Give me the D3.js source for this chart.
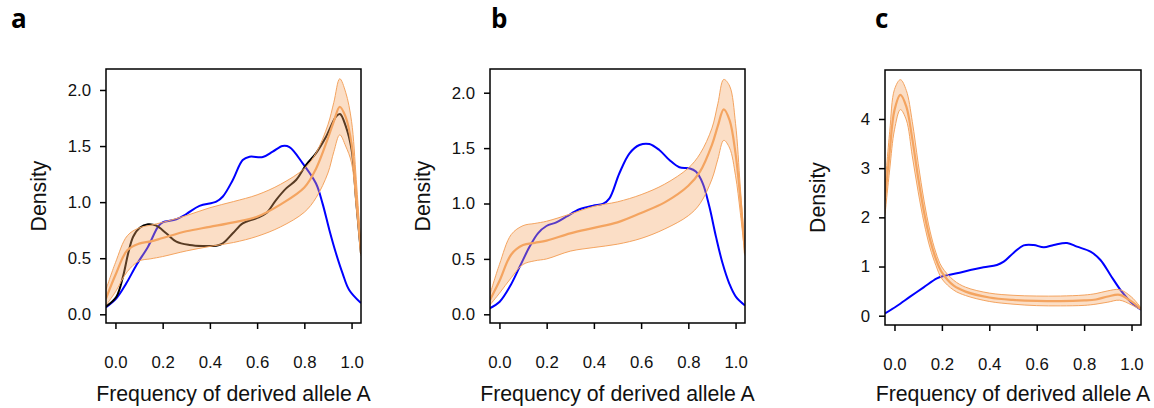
<!DOCTYPE html>
<html>
<head>
<meta charset="utf-8">
<script src="https://cdn.jsdelivr.net/npm/d3@7"></script>
<style>
  body { margin: 0; background: #fff; }
  svg { display: block; }
  .tick-label { font-family: "Liberation Sans", Arial, sans-serif; font-size: 16.8px; fill: #111; }
  .axis-title { font-family: "Liberation Sans", Arial, sans-serif; font-size: 21.3px; fill: #111; }
  .panel-letter { font-family: "Open Sans", sans-serif; font-weight: bold; font-size: 26px; fill: #000; }
</style>
</head>
<body>
<svg id="chart" width="1154" height="408"></svg>
<script>
// ---- data ----
var gridAB = [-0.04, 0, 0.05, 0.1, 0.15, 0.2, 0.3, 0.4, 0.5, 0.6, 0.7, 0.8, 0.85, 0.9, 0.925, 0.95, 0.975, 1.0, 1.02, 1.04];

var aMean  = [0.14, 0.35, 0.57, 0.63, 0.65, 0.68, 0.74, 0.78, 0.82, 0.87, 0.98, 1.13, 1.30, 1.57, 1.72, 1.85, 1.76, 1.52, 1.05, 0.55];
var aUpper = [0.22, 0.46, 0.70, 0.77, 0.795, 0.82, 0.88, 0.95, 1.005, 1.065, 1.16, 1.30, 1.44, 1.69, 1.89, 2.10, 1.98, 1.72, 1.20, 0.58];
var aLower = [0.08, 0.20, 0.38, 0.475, 0.495, 0.515, 0.565, 0.605, 0.64, 0.695, 0.78, 0.91, 1.04, 1.26, 1.45, 1.60, 1.50, 1.35, 0.95, 0.52];

var bMean  = [0.13, 0.30, 0.54, 0.625, 0.645, 0.665, 0.73, 0.78, 0.83, 0.915, 1.01, 1.16, 1.29, 1.53, 1.70, 1.85, 1.75, 1.45, 1.05, 0.55];
var bUpper = [0.18, 0.45, 0.72, 0.80, 0.82, 0.84, 0.905, 0.975, 1.015, 1.08, 1.175, 1.32, 1.45, 1.68, 1.90, 2.12, 2.06, 1.72, 1.15, 0.57];
var bLower = [0.085, 0.19, 0.33, 0.45, 0.483, 0.50, 0.57, 0.603, 0.633, 0.685, 0.77, 0.89, 1.00, 1.22, 1.40, 1.57, 1.50, 1.25, 0.92, 0.53];

var gridC  = [-0.04, -0.02, 0, 0.025, 0.05, 0.075, 0.1, 0.125, 0.15, 0.175, 0.2, 0.25, 0.3, 0.4, 0.5, 0.6, 0.7, 0.8, 0.85, 0.9, 0.95, 1.0, 1.04];
var cMean  = [2.35, 3.35, 4.18, 4.49, 4.25, 3.60, 2.80, 2.10, 1.55, 1.15, 0.88, 0.61, 0.49, 0.37, 0.32, 0.30, 0.295, 0.31, 0.33, 0.39, 0.425, 0.29, 0.14];
var cUpper = [2.62, 3.75, 4.60, 4.80, 4.58, 3.95, 3.10, 2.33, 1.72, 1.28, 0.99, 0.72, 0.58, 0.46, 0.415, 0.40, 0.40, 0.42, 0.45, 0.505, 0.53, 0.38, 0.16];
var cLower = [2.05, 2.98, 3.78, 4.19, 3.98, 3.25, 2.52, 1.88, 1.38, 1.02, 0.75, 0.52, 0.41, 0.29, 0.235, 0.205, 0.20, 0.21, 0.235, 0.275, 0.315, 0.22, 0.12];

// observed densities, [frequency, density]
var aBlue = [[-0.041,0.062],[0.004,0.143],[0.046,0.276],[0.089,0.44],[0.138,0.603],[0.18,0.78],[0.20,0.82],[0.258,0.847],
  [0.30,0.894],[0.356,0.966],[0.427,1.004],[0.455,1.05],[0.497,1.197],[0.539,1.375],[0.568,1.405],[0.624,1.402],
  [0.666,1.45],[0.708,1.50],[0.737,1.49],[0.793,1.346],[0.849,1.168],[0.877,0.989],[0.906,0.752],[0.934,0.544],
  [0.962,0.365],[0.99,0.217],[1.04,0.10]];
var aBlack = [[-0.041,0.068],[0.004,0.157],[0.032,0.336],[0.054,0.544],[0.075,0.692],[0.103,0.772],[0.138,0.802],
  [0.173,0.79],[0.215,0.722],[0.258,0.648],[0.314,0.618],[0.37,0.609],[0.427,0.612],[0.455,0.633],[0.497,0.722],
  [0.539,0.811],[0.596,0.856],[0.638,0.90],[0.68,1.019],[0.723,1.123],[0.765,1.197],[0.807,1.331],[0.849,1.435],
  [0.892,1.583],[0.934,1.762],[0.951,1.786],[0.975,1.68],[1.0,1.47],[1.02,1.0],[1.04,0.54]];
var bBlue = [[-0.041,0.054],[0.001,0.114],[0.044,0.25],[0.086,0.43],[0.128,0.611],[0.163,0.731],[0.199,0.797],
  [0.241,0.83],[0.283,0.881],[0.339,0.948],[0.396,0.981],[0.438,0.996],[0.466,1.047],[0.508,1.273],[0.551,1.453],
  [0.593,1.528],[0.635,1.537],[0.677,1.483],[0.72,1.393],[0.762,1.327],[0.804,1.318],[0.832,1.288],[0.861,1.182],
  [0.889,0.972],[0.917,0.701],[0.945,0.46],[0.973,0.28],[1.001,0.16],[1.04,0.08]];
var cBlue = [[-0.04,0.047],[0.01,0.197],[0.066,0.387],[0.123,0.577],[0.179,0.76],[0.207,0.807],[0.263,0.862],
  [0.32,0.929],[0.376,0.984],[0.432,1.031],[0.461,1.099],[0.503,1.282],[0.545,1.431],[0.587,1.438],[0.63,1.391],
  [0.672,1.438],[0.728,1.479],[0.77,1.404],[0.827,1.303],[0.869,1.133],[0.911,0.828],[0.954,0.522],[0.996,0.285],
  [1.04,0.12]];

var xTicks = [0, 0.2, 0.4, 0.6, 0.8, 1.0];
var yTicksAB = [0, 0.5, 1.0, 1.5, 2.0];
var yTicksC = [0, 1, 2, 3, 4];

var panels = [
  {letter: "a", lx: 11, box: [106, 69, 361, 323], y: [-0.0776, 2.187], yt: yTicksAB, fmt: d3.format(".1f"),
   grid: gridAB, mean: aMean, upper: aUpper, lower: aLower, blue: aBlue, black: aBlack},
  {letter: "b", lx: 491, box: [490, 69, 745, 323], y: [-0.0785, 2.214], yt: yTicksAB, fmt: d3.format(".1f"),
   grid: gridAB, mean: bMean, upper: bUpper, lower: bLower, blue: bBlue},
  {letter: "c", lx: 875, box: [885, 70, 1141, 325], y: [-0.189, 4.996], yt: yTicksC, fmt: d3.format("d"),
   grid: gridC, mean: cMean, upper: cUpper, lower: cLower, blue: cBlue}
];

var svg = d3.select("#chart");
var orange = "#f4a460";

panels.forEach(function (p, i) {
  var x0 = p.box[0], y0 = p.box[1], x1 = p.box[2], y1 = p.box[3];
  var x = d3.scaleLinear().domain([-0.04, 1.04]).range([x0, x1]);
  var y = d3.scaleLinear().domain(p.y).range([y1, y0]);
  var g = svg.append("g");

  svg.append("clipPath").attr("id", "clip" + i)
    .append("rect").attr("x", x0).attr("y", y0).attr("width", x1 - x0).attr("height", y1 - y0);

  var plot = g.append("g").attr("clip-path", "url(#clip" + i + ")");
  var curve = d3.curveCatmullRom.alpha(0.5);
  var line = d3.line().x(function (d) { return x(d[0]); }).y(function (d) { return y(d[1]); }).curve(curve);

  // observed curves under the translucent band
  plot.append("path").attr("d", line(p.blue))
    .attr("fill", "none").attr("stroke", "#0000ff").attr("stroke-width", 2);
  if (p.black) {
    plot.append("path").attr("d", line(p.black))
      .attr("fill", "none").attr("stroke", "#000").attr("stroke-width", 2);
  }

  var rows = p.grid.map(function (gx, k) { return {x: gx, m: p.mean[k], u: p.upper[k], l: p.lower[k]}; });
  var area = d3.area().x(function (d) { return x(d.x); })
    .y0(function (d) { return y(d.l); }).y1(function (d) { return y(d.u); }).curve(curve);
  plot.append("path").attr("d", area(rows)).attr("fill", orange).attr("fill-opacity", 0.36);

  function bandLine(key, w) {
    plot.append("path")
      .attr("d", d3.line().x(function (d) { return x(d.x); }).y(function (d) { return y(d[key]); }).curve(curve)(rows))
      .attr("fill", "none").attr("stroke", orange).attr("stroke-width", w);
  }
  bandLine("u", 1);
  bandLine("l", 1);
  bandLine("m", 2.2);

  // box
  g.append("rect").attr("x", x0).attr("y", y0).attr("width", x1 - x0).attr("height", y1 - y0)
    .attr("fill", "none").attr("stroke", "#000").attr("stroke-width", 1.5);

  // y axis
  var ya = g.append("g").attr("transform", "translate(" + x0 + ",0)")
    .call(d3.axisLeft(y).tickValues(p.yt).tickFormat(p.fmt).tickSize(6).tickPadding(9));
  ya.select(".domain").remove();
  ya.selectAll("line").attr("stroke", "#000").attr("stroke-width", 1.5);
  ya.selectAll("text").attr("class", "tick-label").attr("fill", null);
  ya.attr("font-family", null).attr("font-size", null);

  // x axis
  var xa = g.append("g").attr("transform", "translate(0," + y1 + ")")
    .call(d3.axisBottom(x).tickValues(xTicks).tickFormat(d3.format(".1f")).tickSize(6).tickPadding(27));
  xa.select(".domain").remove();
  xa.selectAll("line").attr("stroke", "#000").attr("stroke-width", 1.5);
  xa.selectAll("text").attr("class", "tick-label").attr("fill", null);
  xa.attr("font-family", null).attr("font-size", null);

  // titles
  g.append("text").attr("class", "axis-title").attr("text-anchor", "middle")
    .attr("x", (x0 + x1) / 2).attr("y", 401).text("Frequency of derived allele A");
  g.append("text").attr("class", "axis-title").attr("text-anchor", "middle")
    .attr("transform", "translate(" + (x0 - 60) + "," + ((y0 + y1) / 2) + ") rotate(-90)")
    .text("Density");
  g.append("text").attr("class", "panel-letter").attr("x", p.lx).attr("y", 27.5).text(p.letter);
});
</script>
</body>
</html>
